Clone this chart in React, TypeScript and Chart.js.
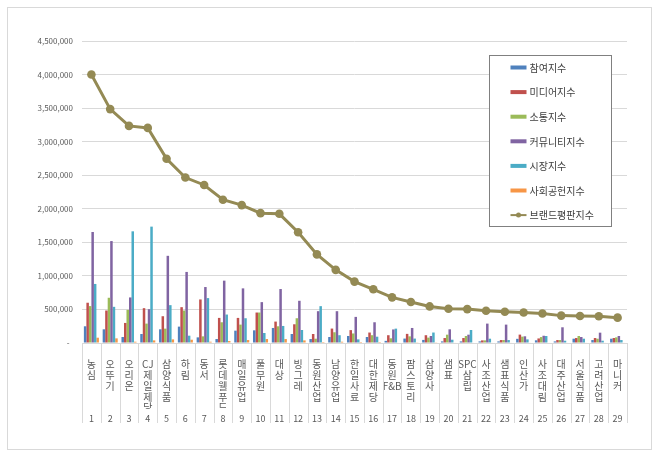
import React, { useEffect, useRef } from 'react';
import { Chart, registerables } from 'chart.js';

Chart.register(...registerables);

const brands = ['농심', '오뚜기', '오리온', 'CJ제일제당', '삼양식품', '하림', '동서', '롯데웰푸드', '매일유업', '풀무원', '대상', '빙그레', '동원산업', '남양유업', '한일사료', '대한제당', '동원F&B', '팜스토리', '삼양사', '샘표', 'SPC삼립', '사조산업', '샘표식품', '인산가', '사조대림', '대주산업', '서울식품', '고려산업', '마니커'];
const ranks = ['1', '2', '3', '4', '5', '6', '7', '8', '9', '10', '11', '12', '13', '14', '15', '16', '17', '18', '19', '20', '21', '22', '23', '24', '25', '26', '27', '28', '29'];

const participation = [249000, 204000, 89000, 134000, 204000, 244000, 84000, 59000, 184000, 189000, 224000, 134000, 59000, 89000, 104000, 89000, 32000, 66000, 46000, 24000, 24000, 24000, 24000, 62000, 40000, 24000, 64000, 44000, 64000];
const media = [600000, 484000, 299000, 519000, 399000, 534000, 649000, 374000, 374000, 454000, 319000, 279000, 134000, 215000, 192000, 156000, 116000, 136000, 116000, 74000, 74000, 39000, 44000, 125000, 68000, 44000, 74000, 74000, 74000];
const communication = [550000, 674000, 494000, 289000, 214000, 484000, 99000, 309000, 274000, 454000, 249000, 369000, 64000, 160000, 142000, 116000, 70000, 99000, 80000, 124000, 104000, 39000, 44000, 95000, 88000, 44000, 104000, 64000, 84000];
const community = [1654000, 1519000, 679000, 504000, 1299000, 1059000, 834000, 929000, 814000, 609000, 804000, 629000, 474000, 474000, 389000, 309000, 202000, 224000, 104000, 204000, 124000, 289000, 274000, 100000, 108000, 234000, 89000, 154000, 104000];
const market = [880000, 539000, 1664000, 1734000, 564000, 109000, 669000, 424000, 369000, 149000, 254000, 194000, 549000, 116000, 54000, 94000, 214000, 66000, 156000, 49000, 194000, 64000, 44000, 54000, 104000, 34000, 64000, 34000, 44000];
const socialContribution = [79000, 69000, 19000, 39000, 54000, 49000, 19000, 29000, 44000, 59000, 59000, 39000, 14000, 19000, 14000, 14000, 8000, 10000, 10000, 8000, 8000, 8000, 8000, 8000, 8000, 8000, 8000, 8000, 8000];
const reputation = [4000000, 3485000, 3235000, 3205000, 2745000, 2465000, 2355000, 2135000, 2055000, 1935000, 1925000, 1650000, 1320000, 1090000, 915000, 800000, 680000, 610000, 545000, 510000, 505000, 480000, 465000, 455000, 440000, 408000, 402000, 398000, 378000];

const barSeries = [
  { label: '참여지수', data: participation, color: '#4F81BD' },
  { label: '미디어지수', data: media, color: '#C0504D' },
  { label: '소통지수', data: communication, color: '#9BBB59' },
  { label: '커뮤니티지수', data: community, color: '#8064A2' },
  { label: '시장지수', data: market, color: '#4BACC6' },
  { label: '사회공헌지수', data: socialContribution, color: '#F79646' },
];
const lineLabel = '브랜드평판지수';
const lineColor = '#948A54';

const FONT = '"Noto Sans CJK KR", "Noto Sans", sans-serif';
const TEXT = '#595959';

function splitName(n: string): string[] {
  return n.match(/[A-Za-z&]+|./g) || [n];
}

const separatorPlugin = {
  id: 'separators',
  afterDraw(chart: any) {
    const x = chart.scales.x;
    const ca = chart.chartArea;
    const ctx = chart.ctx;
    const n = brands.length;
    const half = (x.getPixelForValue(1) - x.getPixelForValue(0)) / 2;
    ctx.save();
    ctx.strokeStyle = '#d9d9d9';
    ctx.lineWidth = 1;
    for (let i = 0; i <= n; i++) {
      const px = Math.round(x.getPixelForValue(i) - half) + 0.5;
      ctx.beginPath();
      ctx.moveTo(px, ca.bottom);
      ctx.lineTo(px, ca.bottom + 80);
      ctx.stroke();
    }
    ctx.restore();
  },
};

const legendPlugin = {
  id: 'boxLegend',
  afterDraw(chart: any) {
    const ca = chart.chartArea;
    const ctx = chart.ctx;
    const bx = Math.round(ca.left + 407) + 0.5;
    const by = Math.round(ca.top + 14) + 0.5;
    const bw = 122;
    const bh = 171;
    ctx.save();
    ctx.fillStyle = '#ffffff';
    ctx.fillRect(bx, by, bw, bh);
    ctx.strokeStyle = '#808080';
    ctx.lineWidth = 1;
    ctx.strokeRect(bx, by, bw, bh);
    ctx.font = `10px ${FONT}`;
    ctx.textBaseline = 'middle';
    ctx.textAlign = 'left';
    const ds = chart.data.datasets;
    ds.forEach((d: any, k: number) => {
      const cy = by + 12 + k * 24.6;
      const mx = bx + 21;
      if (d.type === 'line') {
        ctx.strokeStyle = d.borderColor;
        ctx.lineWidth = 2;
        ctx.beginPath();
        ctx.moveTo(mx, cy);
        ctx.lineTo(mx + 16, cy);
        ctx.stroke();
        ctx.fillStyle = d.borderColor;
        ctx.beginPath();
        ctx.arc(mx + 8, cy, 2.5, 0, Math.PI * 2);
        ctx.fill();
      } else {
        ctx.fillStyle = d.backgroundColor;
        ctx.fillRect(mx, cy - 2, 16, 4);
      }
      ctx.fillStyle = '#404040';
      ctx.fillText(d.label, mx + 19, cy + 0.5);
    });
    ctx.restore();
  },
};

export default function App() {
  const ref = useRef<HTMLCanvasElement | null>(null);

  useEffect(() => {
    document.body.style.margin = '0';
    const canvas = ref.current;
    if (!canvas) return;
    const datasets: any[] = barSeries.map((s) => ({
      type: 'bar',
      label: s.label,
      data: s.data,
      backgroundColor: s.color,
      borderWidth: 0,
      categoryPercentage: 0.8,
      barPercentage: 1.0,
      order: 1,
    }));
    datasets.push({
      type: 'line',
      label: lineLabel,
      data: reputation,
      borderColor: lineColor,
      backgroundColor: lineColor,
      pointBackgroundColor: lineColor,
      pointBorderColor: lineColor,
      pointBorderWidth: 0,
      pointRadius: 4.3,
      borderWidth: 3,
      tension: 0,
      order: 0,
    });

    const chart = new Chart(canvas, {
      type: 'bar',
      data: { labels: brands, datasets },
      options: {
        responsive: false,
        animation: false,
        devicePixelRatio: 1,
        layout: { padding: { left: 0, right: 33, top: 41, bottom: 33 } },
        plugins: {
          legend: { display: false },
          tooltip: { enabled: false },
        },
        scales: {
          y: {
            min: 0,
            max: 4500000,
            ticks: {
              stepSize: 500000,
              padding: 9,
              color: TEXT,
              font: { family: FONT, size: 8 },
              callback: (v: any) => (Number(v) === 0 ? '-  ' : Number(v).toLocaleString('en-US')),
            },
            grid: { color: '#d9d9d9', drawTicks: false, lineWidth: 1 },
            border: { display: false },
            afterFit: (s: any) => {
              s.width = 82;
            },
          },
          x: {
            type: 'category',
            offset: true,
            grid: { display: false },
            border: { display: true, color: '#d9d9d9' },
            ticks: {
              autoSkip: false,
              maxRotation: 0,
              minRotation: 0,
              padding: 8,
              color: TEXT,
              font: { family: FONT, size: 10, lineHeight: 1.08 },
              callback: (_v: any, i: number) => splitName(brands[i]),
            },
            afterFit: (s: any) => {
              s.height = 66;
            },
          },
          x2: {
            type: 'category',
            position: 'bottom',
            labels: ranks,
            offset: true,
            grid: { display: false },
            border: { display: false },
            ticks: {
              autoSkip: false,
              maxRotation: 0,
              minRotation: 0,
              padding: -4,
              color: TEXT,
              font: { family: FONT, size: 9, lineHeight: 1.2 },
            },
            afterFit: (s: any) => {
              s.height = 16;
            },
          },
        },
      } as any,
      plugins: [separatorPlugin, legendPlugin],
    });
    return () => chart.destroy();
  }, []);

  return (
    <div style={{ position: 'relative', width: 660, height: 458, background: '#fff' }}>
      <canvas ref={ref} width={660} height={458} style={{ display: 'block' }} />
      <div
        style={{
          position: 'absolute',
          left: 7,
          top: 7,
          width: 645,
          height: 443,
          border: '1px solid #d9d9d9',
          boxSizing: 'border-box',
          pointerEvents: 'none',
        }}
      />
    </div>
  );
}
